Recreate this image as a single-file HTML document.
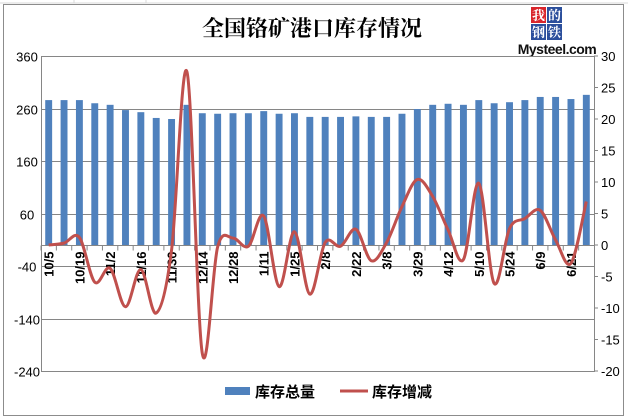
<!DOCTYPE html>
<html><head><meta charset="utf-8"><style>
html,body{margin:0;padding:0;background:#fff;}
svg{display:block;font-family:"Liberation Sans","Noto Sans CJK SC",sans-serif;}
</style></head><body>
<svg id="chart" width="628" height="419" viewBox="0 0 628 419" xmlns="http://www.w3.org/2000/svg">
<rect x="0" y="0" width="628" height="419" fill="#fff"/>
<line x1="0" y1="3" x2="628" y2="3" stroke="#d8d8d8"/>
<line x1="74" y1="0" x2="74" y2="3" stroke="#d8d8d8"/>
<line x1="146" y1="0" x2="146" y2="3" stroke="#d8d8d8"/>
<rect x="3.5" y="4.5" width="620" height="411" fill="#fff" stroke="#8c8c8c"/>
<text x="312" y="36" text-anchor="middle" font-size="22" font-family="'Noto Serif CJK SC','Noto Sans CJK SC',serif" font-weight="bold" fill="#000">全国铬矿港口库存情况</text>
<g>
<rect x="531" y="7" width="15" height="16" fill="#d9262c"/>
<rect x="547" y="7" width="15" height="16" fill="#2c4f9c"/>
<rect x="531" y="24" width="15" height="16" fill="#2c4f9c"/>
<rect x="547" y="24" width="15" height="16" fill="#2c4f9c"/>
<text x="538.5" y="20" text-anchor="middle" font-size="13" fill="#fff" font-weight="bold" font-family="'Noto Serif CJK SC',serif">我</text>
<text x="554.5" y="20" text-anchor="middle" font-size="13" fill="#fff" font-weight="bold" font-family="'Noto Serif CJK SC',serif">的</text>
<text x="538.5" y="37" text-anchor="middle" font-size="13" fill="#fff" font-weight="bold" font-family="'Noto Serif CJK SC',serif">钢</text>
<text x="554.5" y="37" text-anchor="middle" font-size="13" fill="#fff" font-weight="bold" font-family="'Noto Serif CJK SC',serif">铁</text>
<text x="557" y="54" text-anchor="middle" font-size="14" font-weight="bold" fill="#111" letter-spacing="-0.5">Mysteel.com</text>
</g>
<g id="grid"></g>
<g id="bars"></g>
<g id="axes"></g>
<g id="line"></g>
<g>
<rect x="225" y="387" width="25" height="8" fill="#4f81bd"/>
<text x="255" y="397" font-size="15" font-weight="bold" fill="#000">库存总量</text>
<line x1="340" y1="391" x2="368" y2="391" stroke="#c0504d" stroke-width="3"/>
<text x="372" y="397" font-size="15" font-weight="bold" fill="#000">库存增减</text>
</g>
</svg>
<script>
const categories=["10/5","10/12","10/19","10/26","11/2","11/9","11/16","11/23","11/30","12/7","12/14","12/21","12/28","1/4","1/11","1/18","1/25","2/1","2/8","2/15","2/22","3/1","3/8","3/22","3/29","4/5","4/12","4/26","5/10","5/17","5/24","5/31","6/9","6/14","6/21","6/28"];
const stockTotal=[276,276,276,270,267,257,253,242,240,267,251,250,251,251,255,250,251,244,244,244,245,244,244,250,259,267,269,267,276,270,272,276,282,282,278,286];
const stockChange=[0,0.3,1.2,-5.9,-3.7,-9.8,-3.9,-10.8,-0.8,27.5,-17.2,-0.3,1.1,-0.2,4.6,-6.6,2.1,-7.8,0.4,-0.2,2.5,-2.5,0.4,6.1,10.4,7.7,2.4,-2.3,9.8,-6.1,2.6,4.2,5.5,0.8,-2.9,6.9];
const leftTicks=[360,260,160,60,-40,-140,-240];
const rightTicks=[30,25,20,15,10,5,0,-5,-10,-15,-20];

const NS="http://www.w3.org/2000/svg";
const X0=41,X1=594,Y0=56,Y1=371;
const yL=v=>Y0+(360-v)*(Y1-Y0)/600;
const yR=v=>Y0+(30-v)*(Y1-Y0)/50;
const band=(X1-X0)/categories.length;
const xC=i=>X0+band*(i+0.5);
function mk(tag,attrs,parent){const e=document.createElementNS(NS,tag);for(const k in attrs)e.setAttribute(k,attrs[k]);parent.appendChild(e);return e;}
const grid=document.getElementById('grid'),bars=document.getElementById('bars'),axes=document.getElementById('axes'),lineG=document.getElementById('line');
mk('rect',{x:X0+0.5,y:Y0+0.5,width:X1-X0,height:Y1-Y0,fill:'none',stroke:'#868686'},grid);
leftTicks.forEach(v=>{
 const y=Math.round(yL(v))+0.5;
 const g=mk('line',{x1:X0,y1:y,x2:X1,y2:y,stroke:'#868686'},grid);
 
 
 const t=mk('text',{x:27,y:y+5,'text-anchor':'middle','font-size':13,fill:'#000'},axes);
 t.textContent=v;
 
 
});
rightTicks.forEach(v=>{
 const y=yR(v);
 mk('line',{x1:X1,y1:y,x2:X1+4,y2:y,stroke:'#868686'},axes);
 const t=mk('text',{x:601,y:y+5,'font-size':13,fill:'#000'},axes);
 t.textContent=v;
 
 
});
const bw=band*0.45;
stockTotal.forEach((v,i)=>{
 const r=mk('rect',{x:xC(i)-bw/2,y:yL(v),width:bw,height:yL(0)-yL(v),fill:'#4f81bd'},bars);
 
 
});
const y0=Math.round(yL(0))+0.5;
mk('line',{x1:X0,y1:y0,x2:X1,y2:y0,stroke:'#868686'},axes);
categories.forEach((c,i)=>{
 const x=X0+band*i;
 mk('line',{x1:x,y1:y0,x2:x,y2:y0+5,stroke:'#868686'},axes);
 if(i%2===0){
  const t=mk('text',{x:0,y:0,'font-size':13,'font-weight':'bold',fill:'#000','text-anchor':'end',transform:`translate(${xC(i)+5},${y0+6}) rotate(-90)`},axes);
  t.textContent=c;
  
  
 }
});
const pts=stockChange.map((v,i)=>[xC(i),yR(v)]);
let d=`M${pts[0][0]},${pts[0][1]}`;
for(let i=0;i<pts.length-1;i++){
 const p0=pts[i-1]||pts[i],p1=pts[i],p2=pts[i+1],p3=pts[i+2]||p2;
 const t=1/6;
 d+=` C${p1[0]+(p2[0]-p0[0])*t},${p1[1]+(p2[1]-p0[1])*t} ${p2[0]-(p3[0]-p1[0])*t},${p2[1]-(p3[1]-p1[1])*t} ${p2[0]},${p2[1]}`;
}
const path=mk('path',{d:d,fill:'none',stroke:'#c0504d','stroke-width':3,'stroke-linejoin':'round'},lineG);


</script>
</body></html>
